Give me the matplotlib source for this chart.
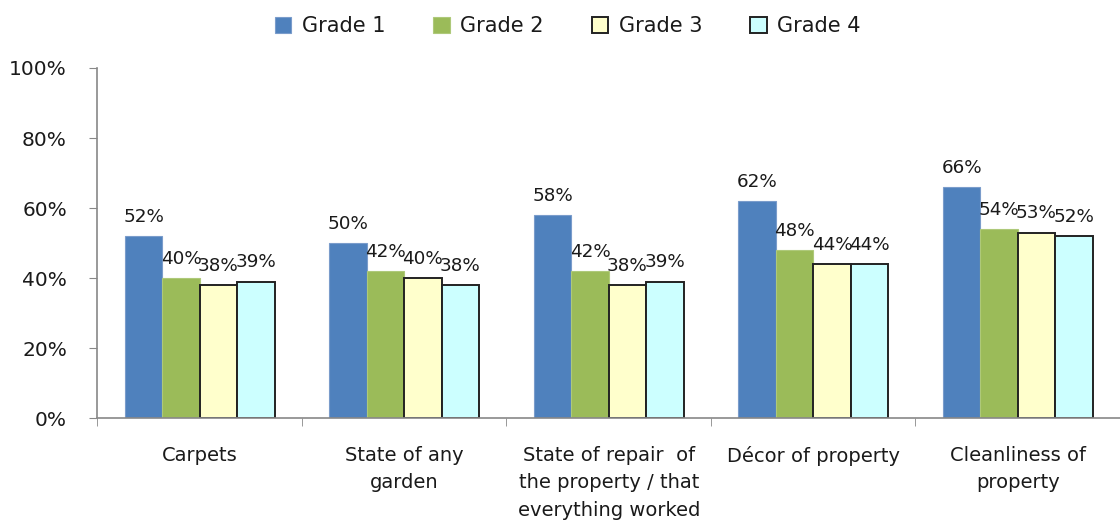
import numpy as np
import matplotlib.pyplot as plt
from matplotlib.ticker import FixedLocator

# Share of respondents rating each aspect, by grade
categories = ["Carpets", "State of any\ngarden", "State of repair  of\nthe property / that\neverything worked",
              "Décor of property", "Cleanliness of\nproperty"]
grades = ["Grade 1", "Grade 2", "Grade 3", "Grade 4"]
grade1 = [52, 50, 58, 62, 66]
grade2 = [40, 42, 42, 48, 54]
grade3 = [38, 40, 38, 44, 53]
grade4 = [39, 38, 39, 44, 52]
yticks = [0, 20, 40, 60, 80, 100]

series = [grade1, grade2, grade3, grade4]
fills = ["#4F81BD", "#9BBB59", "#FFFFCC", "#CCFFFF"]
edges = ["#7A9CCB", "#AEC97A", "#222222", "#222222"]
lws = [0.8, 0.8, 1.4, 1.4]
txt = '#1a1a1a'

plt.rcParams['font.family'] = ['DejaVu Sans']
fig = plt.figure(figsize=(11.2, 5.23), dpi=100)
ax = fig.add_axes([0.087, 0.2, 0.913, 0.67])

x = np.arange(len(categories))
w = 0.183
handles = []
for i, vals in enumerate(series):
    pos = x + (i - 1.5) * w
    b = ax.bar(pos, vals, w, color=fills[i], edgecolor=edges[i], linewidth=lws[i],
               label=grades[i], zorder=2)
    handles.append(b)
    for p, v in zip(pos, vals):
        ax.text(p, v + 3.0, f"{v}%", ha='center', va='bottom', fontsize=13.2, color=txt)

ax.set_xlim(-0.5, len(categories) - 0.5)
ax.set_ylim(0, 100)
ax.set_yticks(yticks)
ax.set_yticklabels([f"{t}%" for t in yticks], fontsize=14.5, color=txt)
ax.set_xticks(x)
ax.set_xticklabels(categories, fontsize=14, linespacing=1.55, va='top', color=txt)
ax.tick_params(axis='x', which='major', length=0, pad=20)
ax.xaxis.set_minor_locator(FixedLocator(np.arange(len(categories) + 1) - 0.5))
ax.tick_params(axis='x', which='minor', length=6, color='#888888', direction='out')
ax.tick_params(axis='y', length=6, color='#888888', pad=16)

for s in ['top', 'right']:
    ax.spines[s].set_visible(False)
for s in ['left', 'bottom']:
    ax.spines[s].set_color('#888888')
    ax.spines[s].set_linewidth(1.2)

leg = fig.legend(handles=handles, loc='upper center', bbox_to_anchor=(0.507, 1.005), ncol=4,
                 frameon=False, fontsize=15, handlelength=0.8, handleheight=0.8,
                 handletextpad=0.5, columnspacing=2.3)
for t in leg.get_texts():
    t.set_color(txt)

fig.savefig("out.png", dpi=100)
